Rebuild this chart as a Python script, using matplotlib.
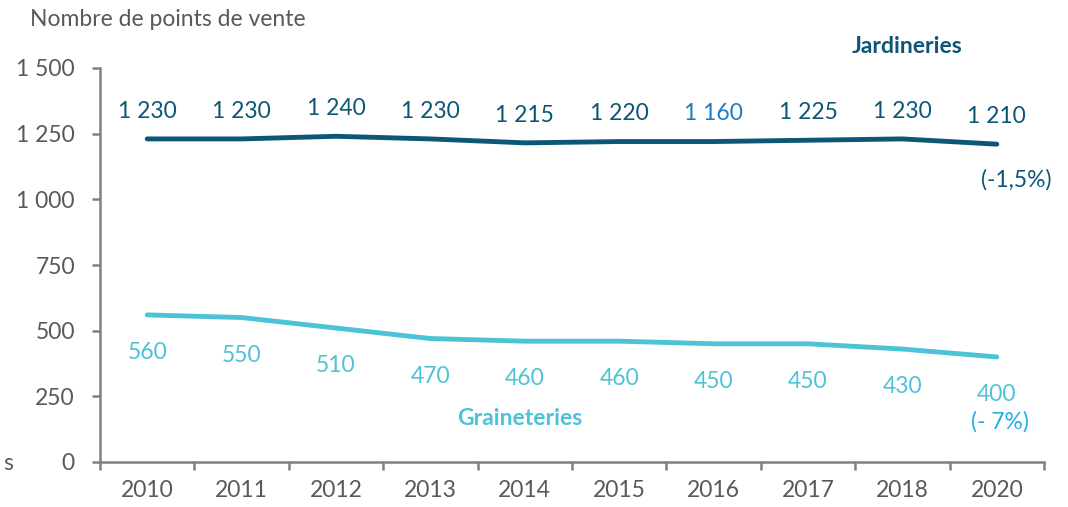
import matplotlib.pyplot as plt
import numpy as np

plt.rcParams['font.family'] = ['Lato', 'DejaVu Sans']

years = ['2010', '2011', '2012', '2013', '2014', '2015', '2016', '2017', '2018', '2020']
jardineries = [1230, 1230, 1240, 1230, 1215, 1220, 1220, 1225, 1230, 1210]
jard_labels = ['1 230', '1 230', '1 240', '1 230', '1 215', '1 220', '1 160', '1 225', '1 230', '1 210']
graineteries = [560, 550, 510, 470, 460, 460, 450, 450, 430, 400]
grain_labels = ['560', '550', '510', '470', '460', '460', '450', '450', '430', '400']
yticks = [0, 250, 500, 750, 1000, 1250, 1500]
ytick_labels = ['0', '250', '500', '750', '1 000', '1 250', '1 500']

dark = '#0d5675'
light = '#4cc3d6'
grey = '#595959'
fs = 16.5

fig = plt.figure(figsize=(10.68, 5.07), dpi=100)
ax = fig.add_axes([100 / 1068, 1 - 462 / 507, 944 / 1068, 394 / 507])

x = np.arange(len(years))
ax.plot(x, jardineries, color=dark, lw=3.5, solid_capstyle='round')
ax.plot(x, graineteries, color=light, lw=3.5, solid_capstyle='round')

for i in range(len(years)):
    c = '#1a7cc6' if jard_labels[i] == '1 160' else dark
    ax.annotate(jard_labels[i], (x[i], jardineries[i]), xytext=(0, 20),
                textcoords='offset points', ha='center', va='center',
                color=c, fontsize=fs)
    ax.annotate(grain_labels[i], (x[i], graineteries[i]), xytext=(0, -27),
                textcoords='offset points', ha='center', va='center',
                color=light, fontsize=fs)

ax.annotate('(-1,5%)', (x[-1], jardineries[-1]), xytext=(14, -26),
            textcoords='offset points', ha='center', va='center',
            color=dark, fontsize=fs)
ax.annotate('(- 7%)', (x[-1], graineteries[-1]), xytext=(2, -47),
            textcoords='offset points', ha='center', va='center',
            color='#1fb0e8', fontsize=fs)
ax.text(8.05, 1580, 'Jardineries', ha='center', va='center', color=dark,
        fontsize=fs, fontweight='bold')
ax.text(3.95, 165, 'Graineteries', ha='center', va='center', color=light,
        fontsize=fs, fontweight='bold')

ax.set_xlim(-0.5, len(years) - 0.5)
ax.set_ylim(0, 1500)
ax.set_yticks(yticks)
ax.set_yticklabels(ytick_labels)
ax.set_xticks(x)
ax.set_xticklabels(years)
ax.set_xticks(np.arange(len(years) + 1) - 0.5, minor=True)
ax.tick_params(axis='x', which='major', length=0, pad=13, labelsize=fs, labelcolor=grey)
ax.tick_params(axis='x', which='minor', length=6, width=1.8, color='#808080')
ax.tick_params(axis='y', length=6, width=1.8, color='#808080', labelsize=fs,
               labelcolor=grey, pad=12)

for s in ['top', 'right']:
    ax.spines[s].set_visible(False)
for s in ['left', 'bottom']:
    ax.spines[s].set_color('#808080')
    ax.spines[s].set_linewidth(1.8)

fig.text(30 / 1068, 1 - 20 / 507, 'Nombre de points de vente', ha='left', va='center',
         color=grey, fontsize=fs)
fig.text(3 / 1068, 1 - 463 / 507, 's', ha='left', va='center', color=grey, fontsize=fs)

fig.savefig('out.png', dpi=100)
